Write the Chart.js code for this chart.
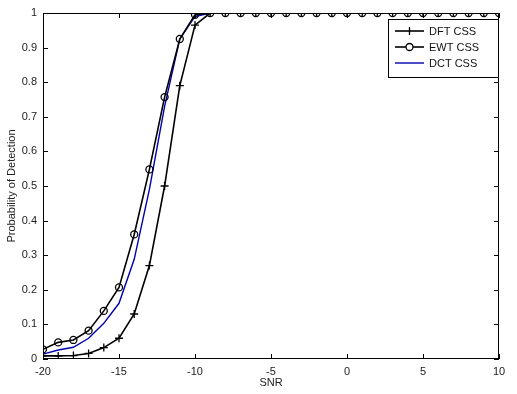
<!DOCTYPE html>
<html>
<head>
<meta charset="utf-8">
<script src="https://cdn.jsdelivr.net/npm/chart.js@4"></script>
<style>
  html, body { margin: 0; padding: 0; background: #fff; }
  #wrap { width: 517px; height: 394px; }
</style>
</head>
<body>
<div id="wrap"><canvas id="pdChart" width="517" height="394"></canvas></div>
<script>
const snr = [-20, -19, -18, -17, -16, -15, -14, -13, -12, -11, -10, -9, -8, -7, -6, -5, -4, -3, -2, -1, 0, 1, 2, 3, 4, 5, 6, 7, 8, 9, 10];
const dftCss = [0.009, 0.009, 0.01, 0.016, 0.033, 0.06, 0.13, 0.27, 0.5, 0.79, 0.965, 1, 1, 1, 1, 1, 1, 1, 1, 1, 1, 1, 1, 1, 1, 1, 1, 1, 1, 1, 1];
const ewtCss = [0.028, 0.048, 0.055, 0.082, 0.139, 0.207, 0.36, 0.548, 0.757, 0.925, 0.995, 1, 1, 1, 1, 1, 1, 1, 1, 1, 1, 1, 1, 1, 1, 1, 1, 1, 1, 1, 1];
const dctCss = [0.014, 0.026, 0.034, 0.06, 0.103, 0.161, 0.288, 0.49, 0.73, 0.925, 0.99, 1, 1, 1, 1, 1, 1, 1, 1, 1, 1, 1, 1, 1, 1, 1, 1, 1, 1, 1, 1];
const xTicks = [-20, -15, -10, -5, 0, 5, 10];
const yTicks = [0, 0.1, 0.2, 0.3, 0.4, 0.5, 0.6, 0.7, 0.8, 0.9, 1];

const font = { family: 'Liberation Sans, Arial, sans-serif', size: 11 };

function pts(ys) {
    return snr.map((x, i) => ({ x: x, y: ys[i] }));
}

// box around the plot plus inward tick marks, matlab style
const frame = {
    id: 'frame',
    afterDraw(chart) {
        const c = chart.ctx;
        const a = chart.chartArea;
        const xs = chart.scales.x, ys = chart.scales.y;
        c.save();
        c.strokeStyle = '#000';
        c.lineWidth = 1;
        c.strokeRect(a.left + 0.5, a.top + 0.5, a.right - a.left - 1, a.bottom - a.top - 1);
        c.beginPath();
        xTicks.forEach(v => {
            const px = Math.round(xs.getPixelForValue(v)) + 0.5;
            c.moveTo(px, a.bottom); c.lineTo(px, a.bottom - 5);
            c.moveTo(px, a.top); c.lineTo(px, a.top + 5);
        });
        yTicks.forEach(v => {
            const py = Math.round(ys.getPixelForValue(v)) + 0.5;
            c.moveTo(a.left, py); c.lineTo(a.left + 5, py);
            c.moveTo(a.right, py); c.lineTo(a.right - 5, py);
        });
        c.stroke();

        // legend box
        const lx = 388, ly = 19, lw = 110, lh = 58;
        c.fillStyle = '#fff';
        c.fillRect(lx, ly, lw, lh);
        c.strokeRect(lx + 0.5, ly + 0.5, lw, lh);
        c.font = '11px ' + font.family;
        c.textBaseline = 'middle';
        chart.data.datasets.forEach((ds, i) => {
            const y = ly + 12 + i * 16;
            c.strokeStyle = ds.borderColor;
            c.lineWidth = ds.borderWidth;
            c.beginPath();
            c.moveTo(395, y); c.lineTo(424, y);
            c.stroke();
            c.lineWidth = 1.3;
            if (ds.pointStyle === 'cross') {
                c.beginPath();
                c.moveTo(409.5, y - 4); c.lineTo(409.5, y + 4);
                c.stroke();
            } else if (ds.pointStyle === 'circle' && ds.pointRadius > 0) {
                c.fillStyle = '#fff';
                c.beginPath();
                c.arc(409.5, y, 3.5, 0, Math.PI * 2);
                c.fill();
                c.stroke();
            }
            c.fillStyle = '#111';
            c.fillText(ds.label, 429, y + 1);
        });
        c.restore();
    }
};

const ctx = document.getElementById('pdChart').getContext('2d');
const pdChart = new Chart(ctx, {
    type: 'line',
    data: {
        datasets: [{
            label: 'DFT CSS',
            data: pts(dftCss),
            borderColor: '#000',
            borderWidth: 1.6,
            pointStyle: 'cross',
            pointRadius: 4,
            pointBorderWidth: 1.3,
            pointBorderColor: '#000',
            fill: false,
            tension: 0
        }, {
            label: 'EWT CSS',
            data: pts(ewtCss),
            borderColor: '#000',
            borderWidth: 1.6,
            pointStyle: 'circle',
            pointRadius: 3.5,
            pointBorderWidth: 1.3,
            pointBorderColor: '#000',
            pointBackgroundColor: 'rgba(0,0,0,0)',
            fill: false,
            tension: 0
        }, {
            label: 'DCT CSS',
            data: pts(dctCss),
            borderColor: '#0000b0',
            borderWidth: 1.4,
            pointStyle: 'circle',
            pointRadius: 0,
            fill: false,
            tension: 0
        }]
    },
    options: {
        responsive: false,
        animation: false,
        layout: { padding: { top: 13, right: 18, left: 0, bottom: 0 } },
        plugins: {
            legend: { display: false },
            tooltip: { enabled: false }
        },
        scales: {
            x: {
                type: 'linear',
                min: -20,
                max: 10,
                afterBuildTicks: s => { s.ticks = xTicks.map(v => ({ value: v })); },
                afterFit: s => { s.height = 35; },
                grid: { display: false, drawTicks: false, tickLength: 0 },
                border: { display: false },
                ticks: { font: font, color: '#222', padding: 6, maxRotation: 0, callback: v => String(v) },
                title: { display: true, text: 'SNR', font: font, color: '#222', padding: { top: 2, bottom: 4 } }
            },
            y: {
                min: 0,
                max: 1,
                afterBuildTicks: s => { s.ticks = yTicks.map(v => ({ value: v })); },
                afterFit: s => { s.width = 43; },
                grid: { display: false, drawTicks: false, tickLength: 0 },
                border: { display: false },
                ticks: { font: font, color: '#222', padding: 6, callback: v => String(+v.toFixed(1)) },
                title: { display: true, text: 'Probability of Detection', font: font, color: '#222', padding: { top: 5, bottom: 4 } }
            }
        }
    },
    plugins: [frame]
});
</script>
</body>
</html>
